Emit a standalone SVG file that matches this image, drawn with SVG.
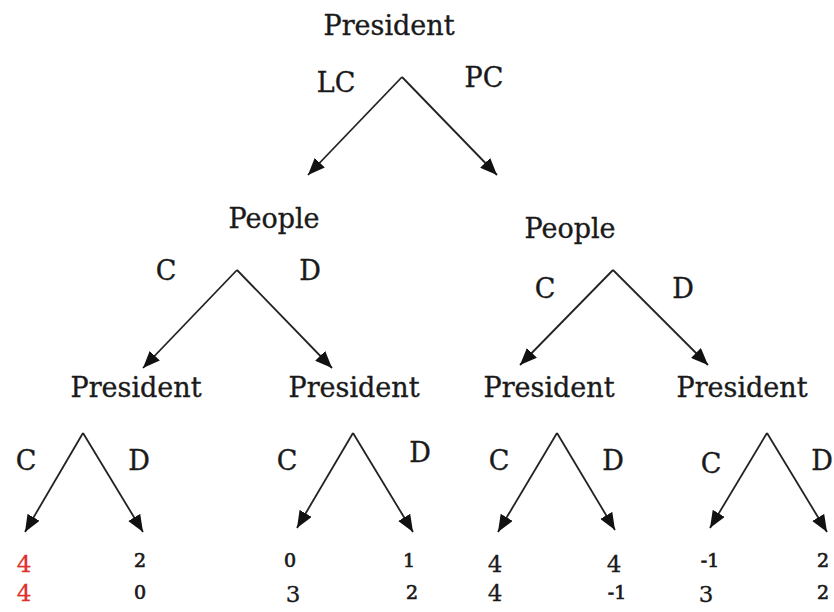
<svg xmlns="http://www.w3.org/2000/svg" width="834" height="612" viewBox="0 0 834 612">
<defs>
<marker id="ah" markerUnits="userSpaceOnUse" markerWidth="18" markerHeight="14" viewBox="0 0 18 14" refX="17" refY="7" orient="auto">
<path d="M0,0 L17,7 L0,14 Z" fill="#111"/>
</marker>
<style>
text{font-family:"DejaVu Serif","Liberation Serif",serif;fill:#1a1a1a;text-anchor:middle}
.lbl{font-size:27px;stroke:#1a1a1a;stroke-width:0.35}
.sm{font-size:19px;stroke:#1a1a1a;stroke-width:0.7}
.lg{font-size:23px;stroke:#1a1a1a;stroke-width:0.3}
.red{fill:#e0302c;stroke:#e0302c}
.e{stroke:#222;stroke-width:1.8;fill:none;marker-end:url(#ah)}
</style>
</defs>
<rect width="834" height="612" fill="#fff"/>
<g id="connectors">
<line class="e" x1="402" y1="77" x2="308" y2="175"/>
<line class="e" x1="402" y1="77" x2="497" y2="175"/>
<line class="e" x1="237" y1="270" x2="143" y2="368"/>
<line class="e" x1="237" y1="270" x2="332" y2="368"/>
<line class="e" x1="613" y1="270" x2="520" y2="365"/>
<line class="e" x1="613" y1="270" x2="708" y2="365"/>
<line class="e" x1="83" y1="433" x2="25" y2="532"/>
<line class="e" x1="83" y1="433" x2="143" y2="532"/>
<line class="e" x1="353" y1="433" x2="297" y2="528"/>
<line class="e" x1="353" y1="433" x2="413" y2="532"/>
<line class="e" x1="557" y1="433" x2="498" y2="532"/>
<line class="e" x1="557" y1="433" x2="615" y2="530"/>
<line class="e" x1="767" y1="433" x2="710" y2="528"/>
<line class="e" x1="767" y1="433" x2="827" y2="532"/>
</g>
<g id="root">
<text class="lbl" x="389" y="35">President</text>
<text class="lbl" x="336" y="92">LC</text>
<text class="lbl" x="484" y="87">PC</text>
</g>
<g id="people-lc">
<text class="lbl" x="274" y="228">People</text>
<text class="lbl" x="166" y="280">C</text>
<text class="lbl" x="310" y="280">D</text>
</g>
<g id="people-pc">
<text class="lbl" x="570" y="238">People</text>
<text class="lbl" x="545" y="298">C</text>
<text class="lbl" x="683" y="298">D</text>
</g>
<g id="president-1">
<text class="lbl" x="136" y="397">President</text>
<text class="lbl" x="26" y="470">C</text>
<text class="lbl" x="139" y="470">D</text>
</g>
<g id="president-2">
<text class="lbl" x="354" y="397">President</text>
<text class="lbl" x="287" y="470">C</text>
<text class="lbl" x="420" y="462">D</text>
</g>
<g id="president-3">
<text class="lbl" x="549" y="397">President</text>
<text class="lbl" x="499" y="470">C</text>
<text class="lbl" x="613" y="470">D</text>
</g>
<g id="president-4">
<text class="lbl" x="742" y="397">President</text>
<text class="lbl" x="711" y="473">C</text>
<text class="lbl" x="822" y="470">D</text>
</g>
<g id="payoffs">
<text class="lg red" x="24" y="572">4</text>
<text class="lg red" x="24" y="601">4</text>
<text class="sm" x="140" y="567">2</text>
<text class="sm" x="140" y="599">0</text>
<text class="sm" x="290" y="567">0</text>
<text class="lg" x="293" y="602">3</text>
<text class="sm" x="409" y="567">1</text>
<text class="sm" x="412" y="599">2</text>
<text class="lg" x="495" y="572">4</text>
<text class="lg" x="495" y="601">4</text>
<text class="lg" x="614" y="572">4</text>
<text class="sm" x="617" y="599">-1</text>
<text class="sm" x="710" y="567">-1</text>
<text class="lg" x="706" y="602">3</text>
<text class="sm" x="823" y="567">2</text>
<text class="sm" x="823" y="599">2</text>
</g>
</svg>
